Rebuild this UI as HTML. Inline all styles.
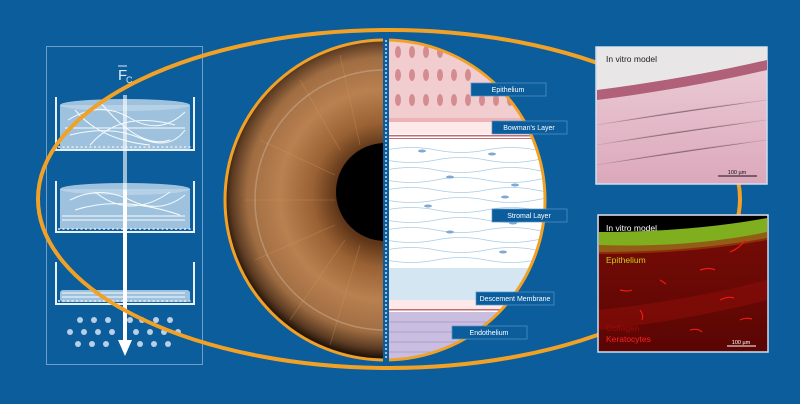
<!DOCTYPE html>
<html><head><meta charset="utf-8"><style>
html,body{margin:0;padding:0;background:#0b5d9c;}
svg{display:block}
text{font-family:"Liberation Sans",sans-serif}
</style></head><body>
<svg width="800" height="404" viewBox="0 0 800 404" xmlns="http://www.w3.org/2000/svg">
<defs>
<radialGradient id="iris" cx="385" cy="195" r="162" gradientUnits="userSpaceOnUse">
<stop offset="0.3" stop-color="#5e3518"/><stop offset="0.45" stop-color="#9a6234"/><stop offset="0.65" stop-color="#b98050"/><stop offset="0.85" stop-color="#a06d42"/><stop offset="0.95" stop-color="#5a3a22"/><stop offset="1" stop-color="#241509"/>
</radialGradient>
<clipPath id="eyeR"><rect x="386" y="0" width="200" height="404"/></clipPath>
<clipPath id="eyeC"><circle cx="385" cy="200" r="160"/></clipPath>
<clipPath id="fl"><rect x="598" y="215" width="170" height="137"/></clipPath>
<linearGradient id="fluo" x1="0" y1="0" x2="0" y2="1"><stop offset="0" stop-color="#7a0c06"/><stop offset="1" stop-color="#5a0604"/></linearGradient>
<linearGradient id="he" x1="0" y1="0" x2="0" y2="1"><stop offset="0" stop-color="#eccfd9"/><stop offset="1" stop-color="#dca8bb"/></linearGradient>
</defs>
<rect width="800" height="404" fill="#0b5d9c"/>
<!-- left box -->
<rect x="46.5" y="46.5" width="156" height="318" fill="none" stroke="#6f9ec8" stroke-width="1"/>
<text x="118" y="80" fill="#dfeaf5" font-size="15">F</text><text x="126" y="83" fill="#dfeaf5" font-size="9">C</text>
<line x1="118" y1="66" x2="127" y2="66" stroke="#dfeaf5" stroke-width="1"/>
<g fill="#b9d3ea" fill-opacity="0.85">
<ellipse cx="125" cy="105" rx="65" ry="6"/><rect x="60" y="105" width="130" height="45"/>
<ellipse cx="125" cy="189" rx="65" ry="6"/><rect x="60" y="189" width="130" height="40"/>
<rect x="60" y="290" width="130" height="12" rx="3"/>
</g>
<g stroke="#fff" stroke-width="1" fill="none" opacity="0.9">
<path d="M68 120 Q100 100 130 118 T185 112 M70 135 Q110 125 140 138 T185 130 M75 110 Q100 140 150 145 M90 145 Q120 110 175 125 M100 102 Q140 150 170 140 M65 128 L185 128"/>
<path d="M70 200 Q100 185 130 200 T185 195 M75 210 Q120 195 180 215 M95 192 Q130 220 170 192"/>
<path d="M62 216 H185 M62 220 H185 M62 297 H185 M62 293 H185"/>
</g>
<g stroke="#e6eef7" stroke-width="2" fill="none">
<path d="M56 97 V150 H194 V97"/><path d="M56 181 V232 H194 V181"/><path d="M56 262 V304 H194 V262"/>
</g>
<g stroke="#e6eef7" stroke-width="1.5" stroke-dasharray="2 2.5">
<line x1="58" y1="147" x2="192" y2="147"/><line x1="58" y1="229" x2="192" y2="229"/><line x1="58" y1="301" x2="192" y2="301"/>
</g>
<g fill="#b9cfe6">
<circle cx="80" cy="320" r="3"/><circle cx="94" cy="320" r="3"/><circle cx="108" cy="320" r="3"/><circle cx="142" cy="320" r="3"/><circle cx="156" cy="320" r="3"/><circle cx="170" cy="320" r="3"/><circle cx="130" cy="320" r="3"/>
<circle cx="70" cy="332" r="3"/><circle cx="84" cy="332" r="3"/><circle cx="98" cy="332" r="3"/><circle cx="112" cy="332" r="3"/><circle cx="136" cy="332" r="3"/><circle cx="150" cy="332" r="3"/><circle cx="164" cy="332" r="3"/><circle cx="178" cy="332" r="3"/>
<circle cx="78" cy="344" r="3"/><circle cx="92" cy="344" r="3"/><circle cx="106" cy="344" r="3"/><circle cx="140" cy="344" r="3"/><circle cx="154" cy="344" r="3"/><circle cx="168" cy="344" r="3"/>
</g>
<rect x="123" y="95" width="4" height="240" fill="#fff" opacity="0.6"/>
<rect x="123" y="190" width="4" height="150" fill="#fff"/>
<polygon points="118,340 132,340 125,356" fill="#fff"/>
<!-- big orange ellipse -->
<ellipse cx="389" cy="199" rx="351" ry="169" fill="none" stroke="#f2a127" stroke-width="4"/>
<!-- eye -->
<circle cx="385" cy="200" r="160" fill="url(#iris)"/>
<g stroke="#d89a5c" stroke-width="0.8" opacity="0.35" fill="none">
<path d="M300 80 L340 150 M260 140 L335 175 M245 200 L335 200 M255 260 L335 225 M290 320 L345 240 M330 345 L360 245 M340 55 L360 145"/>
</g>
<circle cx="385" cy="200" r="130" fill="none" stroke="#d9ccbf" stroke-width="1.5" opacity="0.35"/>
<circle cx="385" cy="192" r="49" fill="#000"/>
<g clip-path="url(#eyeC)">
<g clip-path="url(#eyeR)">
<rect x="386" y="30" width="200" height="350" fill="#fff"/>
<rect x="386" y="30" width="200" height="88" fill="#f2cdd0"/>
<g fill="#d58c90">
<ellipse cx="398" cy="52" rx="3" ry="6"/><ellipse cx="412" cy="52" rx="3" ry="6"/><ellipse cx="426" cy="52" rx="3" ry="6"/><ellipse cx="440" cy="52" rx="3" ry="6"/>
<ellipse cx="398" cy="75" rx="3" ry="6"/><ellipse cx="412" cy="75" rx="3" ry="6"/><ellipse cx="426" cy="75" rx="3" ry="6"/><ellipse cx="440" cy="75" rx="3" ry="6"/><ellipse cx="454" cy="75" rx="3" ry="6"/><ellipse cx="468" cy="75" rx="3" ry="6"/>
<ellipse cx="398" cy="100" rx="3" ry="6"/><ellipse cx="412" cy="100" rx="3" ry="6"/><ellipse cx="426" cy="100" rx="3" ry="6"/><ellipse cx="440" cy="100" rx="3" ry="6"/><ellipse cx="454" cy="100" rx="3" ry="6"/><ellipse cx="468" cy="100" rx="3" ry="6"/><ellipse cx="482" cy="100" rx="3" ry="6"/><ellipse cx="496" cy="100" rx="3" ry="6"/><ellipse cx="510" cy="100" rx="3" ry="6"/>
</g>
<rect x="386" y="118" width="200" height="4" fill="#eeb3b6"/>
<rect x="386" y="122" width="200" height="12" fill="#fde9ea"/>
<rect x="386" y="135" width="200" height="1.5" fill="#c56a6e"/><rect x="386" y="138" width="200" height="1" fill="#c56a6e"/>
<g stroke="#a9cbe6" stroke-width="0.8" fill="none">
<path d="M386 150 q25 -5 50 0 t50 0 t50 0 t50 0"/><path d="M386 160 q25 5 50 0 t50 0 t50 0 t50 0"/>
<path d="M386 170 q25 -5 50 0 t50 0 t50 0 t50 0"/><path d="M386 180 q25 5 50 0 t50 0 t50 0 t50 0"/>
<path d="M386 190 q25 -5 50 0 t50 0 t50 0 t50 0"/><path d="M386 200 q25 5 50 0 t50 0 t50 0 t50 0"/>
<path d="M386 210 q25 -5 50 0 t50 0 t50 0 t50 0"/><path d="M386 220 q25 5 50 0 t50 0 t50 0 t50 0"/>
<path d="M386 230 q25 -5 50 0 t50 0 t50 0 t50 0"/><path d="M386 240 q25 5 50 0 t50 0 t50 0 t50 0"/>
<path d="M386 250 q25 -5 50 0 t50 0 t50 0 t50 0"/><path d="M386 260 q25 5 50 0 t50 0 t50 0 t50 0"/>
</g>
<g fill="#7fa9d3"><ellipse cx="422" cy="151" rx="4" ry="1.5"/><ellipse cx="492" cy="154" rx="4" ry="1.5"/><ellipse cx="450" cy="177" rx="4" ry="1.5"/><ellipse cx="515" cy="185" rx="4" ry="1.5"/><ellipse cx="505" cy="197" rx="4" ry="1.5"/><ellipse cx="428" cy="206" rx="4" ry="1.5"/><ellipse cx="513" cy="223" rx="4" ry="1.5"/><ellipse cx="450" cy="232" rx="4" ry="1.5"/><ellipse cx="503" cy="252" rx="4" ry="1.5"/></g>
<rect x="386" y="268" width="200" height="32" fill="#d3e6f2"/>
<rect x="386" y="300" width="200" height="10" fill="#fde9ea"/>
<rect x="386" y="309" width="200" height="1.5" fill="#c56a6e"/>
<rect x="386" y="312" width="200" height="60" fill="#c9bde0"/>
<g stroke="#a594c9" stroke-width="0.7"><path d="M386 322 H586 M386 332 H586 M386 342 H586 M386 352 H586"/></g>
</g>
</g>
<circle cx="385" cy="200" r="160" fill="none" stroke="#f2a127" stroke-width="3"/>
<rect x="383" y="38" width="6" height="324" fill="#0b5d9c"/>
<line x1="386" y1="40" x2="386" y2="360" stroke="#fff" stroke-width="1.2" stroke-dasharray="2 2"/>
<!-- labels -->
<g font-size="7" fill="#fff" text-anchor="middle">
<rect x="471" y="83" width="75" height="13" fill="#0b5d9c" stroke="#5b94c8" stroke-width="0.7"/><text x="508" y="92">Epithelium</text>
<rect x="492" y="121" width="75" height="13" fill="#0b5d9c" stroke="#5b94c8" stroke-width="0.7"/><text x="529" y="130">Bowman's Layer</text>
<rect x="492" y="209" width="75" height="13" fill="#0b5d9c" stroke="#5b94c8" stroke-width="0.7"/><text x="529" y="218">Stromal Layer</text>
<rect x="476" y="292" width="78" height="13" fill="#0b5d9c" stroke="#5b94c8" stroke-width="0.7"/><text x="515" y="301">Descement Membrane</text>
<rect x="452" y="326" width="75" height="13" fill="#0b5d9c" stroke="#5b94c8" stroke-width="0.7"/><text x="489" y="335">Endothelium</text>
</g>
<!-- right images -->
<rect x="596" y="47" width="171" height="137" fill="url(#he)" stroke="#cfe0ef" stroke-width="1.5"/>
<path d="M597 47 H767 V62 Q700 75 597 92 Z" fill="#e8e6e7"/>
<path d="M597 90 Q690 78 767 60 L767 70 Q690 88 597 100 Z" fill="#b06078"/>
<g stroke="#b0788a" stroke-width="0.6" opacity="0.4"><path d="M597 125 Q680 110 767 100 M597 145 Q680 130 767 120 M597 165 Q680 150 767 140"/></g>
<text x="606" y="62" font-size="8.5" fill="#222">In vitro model</text>
<line x1="718" y1="176" x2="757" y2="176" stroke="#111" stroke-width="1"/><text x="737" y="174" font-size="5.5" fill="#111" text-anchor="middle">100 µm</text>
<rect x="598" y="215" width="170" height="137" fill="url(#fluo)" stroke="#cfe0ef" stroke-width="1.5"/>
<g clip-path="url(#fl)">
<rect x="599" y="216" width="168" height="20" fill="#000"/>
<path d="M599 232 Q690 232 767 218 L767 238 Q690 252 599 252 Z" fill="#7fae1e"/>
<path d="M599 245 Q690 248 767 232 L767 240 Q690 254 599 254 Z" fill="#9a3a10" opacity="0.7"/>
<path d="M599 310 Q690 300 767 280 L767 300 Q690 320 599 330 Z" fill="#8a0d08" opacity="0.6"/>
</g>
<g stroke="#f01a10" stroke-width="1.2" fill="none"><path d="M700 270 q10 -3 15 0 M620 290 q8 2 12 0 M720 300 q8 -4 14 -2 M640 310 q4 5 2 10 M690 330 q8 -2 12 2 M740 320 q6 -3 12 -1 M660 280 l6 4 M745 240 q-5 8 -15 12"/></g>
<text x="606" y="231" font-size="8.5" fill="#fff">In vitro model</text>
<text x="606" y="263" font-size="8.5" fill="#c9d018">Epithelium</text>
<text x="606" y="331" font-size="8.5" fill="#a00a0a">Collagen</text>
<text x="606" y="342" font-size="8.5" fill="#ff2020">Keratocytes</text>
<line x1="727" y1="346" x2="756" y2="346" stroke="#fff" stroke-width="1"/><text x="741" y="344" font-size="5.5" fill="#fff" text-anchor="middle">100 µm</text>
</svg>
</body></html>
